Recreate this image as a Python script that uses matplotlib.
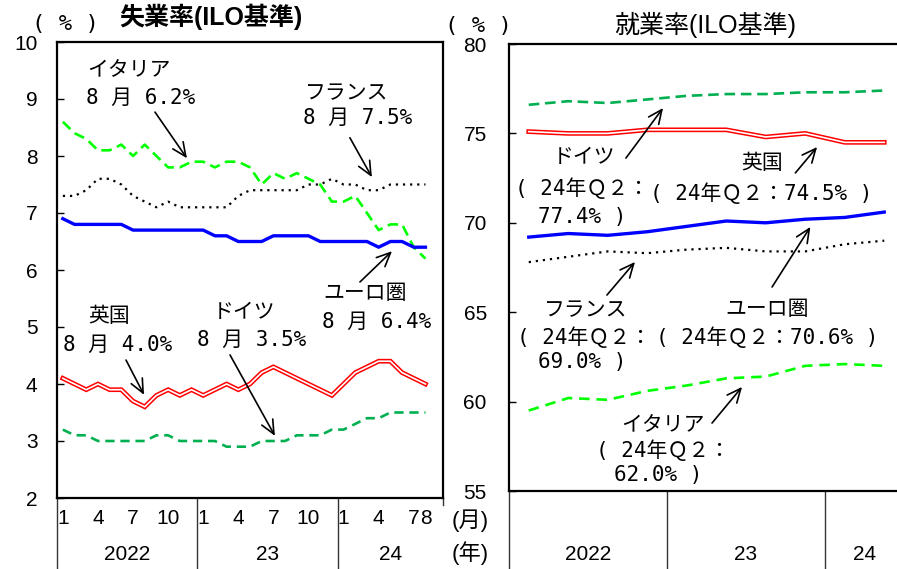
import matplotlib
matplotlib.use("Agg")
import matplotlib.pyplot as plt
import matplotlib.transforms as mtransforms
import numpy as np

plt.rcParams['font.family'] = ['Liberation Sans', 'Noto Sans CJK JP']
ANNOT_FONT = ['DejaVu Sans Mono', 'Noto Sans CJK JP']

# ---- monthly unemployment rate (Jan 2022 - Aug 2024), %
months = np.arange(32)
month_labels = ["1", "4", "7", "10", "1", "4", "7", "10", "1", "4", "7", "8"]
month_label_pos = [0, 3, 6, 9, 12, 15, 18, 21, 24, 27, 30, 31]
years_left = ["2022", "23", "24"]
year_bounds_left = [-0.5, 11.5, 23.5, 32.5]

unemp_euro = [6.9, 6.8, 6.8, 6.8, 6.8, 6.8, 6.7, 6.7, 6.7, 6.7, 6.7, 6.7,
              6.7, 6.6, 6.6, 6.5, 6.5, 6.5, 6.6, 6.6, 6.6, 6.6, 6.5, 6.5,
              6.5, 6.5, 6.5, 6.4, 6.5, 6.5, 6.4, 6.4]
unemp_france = [7.3, 7.3, 7.4, 7.6, 7.6, 7.5, 7.3, 7.2, 7.1, 7.2, 7.1, 7.1,
                7.1, 7.1, 7.1, 7.3, 7.4, 7.4, 7.4, 7.4, 7.4, 7.5, 7.5, 7.6,
                7.5, 7.5, 7.4, 7.4, 7.5, 7.5, 7.5, 7.5]
unemp_italy = [8.6, 8.4, 8.3, 8.1, 8.1, 8.2, 8.0, 8.2, 8.0, 7.8, 7.8, 7.9,
               7.9, 7.8, 7.9, 7.9, 7.8, 7.5, 7.7, 7.6, 7.7, 7.6, 7.5, 7.2,
               7.2, 7.3, 7.0, 6.7, 6.8, 6.8, 6.4, 6.2]
unemp_uk = [4.1, 4.0, 3.9, 4.0, 3.9, 3.9, 3.7, 3.6, 3.8, 3.9, 3.8, 3.9,
            3.8, 3.9, 4.0, 3.9, 4.0, 4.2, 4.3, 4.2, 4.1, 4.0, 3.9, 3.8,
            4.0, 4.2, 4.3, 4.4, 4.4, 4.2, 4.1, 4.0]
unemp_germany = [3.2, 3.1, 3.1, 3.0, 3.0, 3.0, 3.0, 3.0, 3.1, 3.1, 3.0, 3.0,
                 3.0, 3.0, 2.9, 2.9, 2.9, 3.0, 3.0, 3.0, 3.1, 3.1, 3.1, 3.2,
                 3.2, 3.3, 3.4, 3.4, 3.5, 3.5, 3.5, 3.5]

# ---- quarterly employment rate (2022Q1 - 2024Q2), %
quarters = np.arange(10)
years_right = ["2022", "23", "24"]
year_bounds_right = [-0.5, 3.5, 7.5, 9.5]
emp_germany = [76.6, 76.8, 76.7, 76.9, 77.1, 77.2, 77.2, 77.3, 77.3, 77.4]
emp_uk = [75.1, 75.0, 75.0, 75.2, 75.2, 75.2, 74.8, 75.0, 74.5, 74.5]
emp_euro = [69.2, 69.4, 69.3, 69.5, 69.8, 70.1, 70.0, 70.2, 70.3, 70.6]
emp_france = [67.8, 68.1, 68.4, 68.3, 68.5, 68.6, 68.4, 68.4, 68.8, 69.0]
emp_italy = [59.5, 60.2, 60.1, 60.6, 60.9, 61.3, 61.4, 62.0, 62.1, 62.0]

W, H = 897, 569
fig = plt.figure(figsize=(W / 100, H / 100), dpi=100)
ax1 = fig.add_axes([57 / W, 1 - 498 / H, 386 / W, 456 / H])
ax2 = fig.add_axes([509 / W, 1 - 491 / H, 395 / W, 447 / H])

RED = '#FF0000'
LIME = '#00FF00'
DKGREEN = '#00B050'
BLUE = '#0000FF'


def double_line(ax, x, y):
    ax.plot(x, y, color=RED, lw=3.4, solid_joinstyle='miter', zorder=3)
    ax.plot(x, y, color='white', lw=1.2, solid_joinstyle='miter', zorder=4)


# ---- left panel: unemployment
ax1.plot(months, unemp_italy, color=LIME, lw=1.9, dashes=(4, 2.2), zorder=3)
ax1.plot(months, unemp_france, color='black', lw=1.6, dashes=(1, 2.2), zorder=3)
ax1.plot(months, unemp_euro, color=BLUE, lw=2.4, zorder=3)
double_line(ax1, months, unemp_uk)
ax1.plot(months, unemp_germany, color=DKGREEN, lw=1.9, dashes=(3.5, 2.2), zorder=3)

ax1.set_xlim(-0.5, 32.5)
ax1.set_ylim(2, 10)
ax1.set_yticks(range(2, 11))
ax1.set_xticks(month_label_pos)
ax1.set_xticklabels(month_labels)
ax1.tick_params(axis='y', direction='in', length=5, width=1, labelsize=15, pad=14)
ax1.tick_params(axis='x', length=0, labelsize=15, pad=8)
for s in ax1.spines.values():
    s.set_linewidth(1.6)

trans1 = mtransforms.blended_transform_factory(ax1.transData, ax1.transAxes)
for b in year_bounds_left[:-1]:
    ax1.plot([b, b], [0, -71 / 456], color='#333333', lw=1, transform=trans1, clip_on=False)
ax1.plot([32.5, 32.5], [0, -7 / 456], color='#333333', lw=1, transform=trans1, clip_on=False)
for i, lab in enumerate(years_left):
    xc = (year_bounds_left[i] + year_bounds_left[i + 1]) / 2
    ax1.text(xc, -57 / 456, lab, transform=trans1, ha='center', va='center', fontsize=15)


def note(ax, x, y, s, ha='left'):
    ax.text(x, y, s, ha=ha, va='center', fontsize=15, family=ANNOT_FONT, zorder=5)


def arrow(ax, tail, head):
    ax.annotate('', xy=head, xytext=tail,
                arrowprops=dict(arrowstyle='->,head_length=0.55,head_width=0.25',
                                color='black', lw=1.2, shrinkA=0, shrinkB=0,
                                mutation_scale=18), zorder=5)


# annotations left
note(ax1, 2.06, 9.51, "イタリア")
note(ax1, 1.98, 9.02, "8 月 6.2%")
arrow(ax1, (7.88, 8.77), (10.61, 7.96))
note(ax1, 20.7, 9.11, "フランス")
note(ax1, 20.53, 8.67, "8 月 7.5%")
arrow(ax1, (24.54, 8.32), (26.42, 7.63))
note(ax1, 22.24, 5.60, "ユーロ圏")
note(ax1, 22.15, 5.09, "8 月 6.4%")
arrow(ax1, (25.4, 5.79), (28.14, 6.33))
note(ax1, 2.15, 5.19, "英国")
note(ax1, 0.01, 4.68, "8 月 4.0%")
arrow(ax1, (5.40, 4.42), (6.94, 3.81))
note(ax1, 12.83, 5.26, "ドイツ")
note(ax1, 11.47, 4.77, "8 月 3.5%")
arrow(ax1, (14.29, 4.51), (18.13, 3.09))

# ---- right panel: employment
ax2.plot(quarters, emp_germany, color=DKGREEN, lw=1.9, dashes=(4, 2.2), zorder=3)
double_line(ax2, quarters, emp_uk)
ax2.plot(quarters, emp_euro, color=BLUE, lw=2.4, zorder=3)
ax2.plot(quarters, emp_france, color='black', lw=1.6, dashes=(1, 2.2), zorder=3)
ax2.plot(quarters, emp_italy, color=LIME, lw=1.9, dashes=(4, 2.6), zorder=3)

ax2.set_xlim(-0.5, 9.5)
ax2.set_ylim(55, 80)
ax2.set_yticks(range(55, 81, 5))
ax2.set_xticks([])
ax2.tick_params(axis='y', direction='in', length=5, width=1, labelsize=15, pad=16)
for s in ax2.spines.values():
    s.set_linewidth(1.6)
ax2.spines['right'].set_visible(False)

trans2 = mtransforms.blended_transform_factory(ax2.transData, ax2.transAxes)
for b in year_bounds_right[:-1]:
    ax2.plot([b, b], [0, -78 / 447], color='#333333', lw=1, transform=trans2, clip_on=False)
for i, lab in enumerate(years_right):
    xc = (year_bounds_right[i] + year_bounds_right[i + 1]) / 2
    ax2.text(xc, -64 / 447, lab, transform=trans2, ha='center', va='center', fontsize=15)

note(ax2, 1.40, 73.68, "ドイツ", ha='center')
note(ax2, 1.35, 71.95, "( 24年Ｑ２：", ha='center')
note(ax2, 1.35, 70.30, "77.4% )", ha='center')
arrow(ax2, (2.46, 73.62), (3.40, 76.42))
note(ax2, 5.91, 73.34, "英国", ha='center')
note(ax2, 5.88, 71.67, "( 24年Ｑ２：74.5% )", ha='center')
arrow(ax2, (6.75, 72.79), (7.30, 74.24))
note(ax2, 1.43, 65.12, "フランス", ha='center')
note(ax2, 1.40, 63.61, "( 24年Ｑ２：", ha='center')
note(ax2, 1.35, 62.21, "69.0% )", ha='center')
arrow(ax2, (1.98, 65.96), (2.69, 67.81))
note(ax2, 6.04, 65.18, "ユーロ圏", ha='center')
note(ax2, 6.04, 63.61, "( 24年Ｑ２：70.6% )", ha='center')
arrow(ax2, (6.16, 66.41), (7.13, 69.77))
note(ax2, 3.40, 58.69, "イタリア", ha='center')
note(ax2, 3.40, 57.29, "( 24年Ｑ２：", ha='center')
note(ax2, 3.27, 55.90, "62.0% )", ha='center')
arrow(ax2, (4.64, 58.80), (5.40, 60.82))

# ---- titles and unit labels
fig.text(211 / W, 1 - 17 / H, "失業率(ILO基準)", ha='center', va='center',
         fontsize=18, fontweight='bold')
fig.text(705 / W, 1 - 25 / H, "就業率(ILO基準)", ha='center', va='center', fontsize=18)
fig.text(65 / W, 1 - 24 / H, "( % )", ha='center', va='center', fontsize=16, family=ANNOT_FONT)
fig.text(478 / W, 1 - 26 / H, "( % )", ha='center', va='center', fontsize=16, family=ANNOT_FONT)
fig.text(470 / W, 1 - 521 / H, "(月)", ha='center', va='center', fontsize=16)
fig.text(470 / W, 1 - 553 / H, "(年)", ha='center', va='center', fontsize=16)

fig.savefig("out.png", dpi=100)
